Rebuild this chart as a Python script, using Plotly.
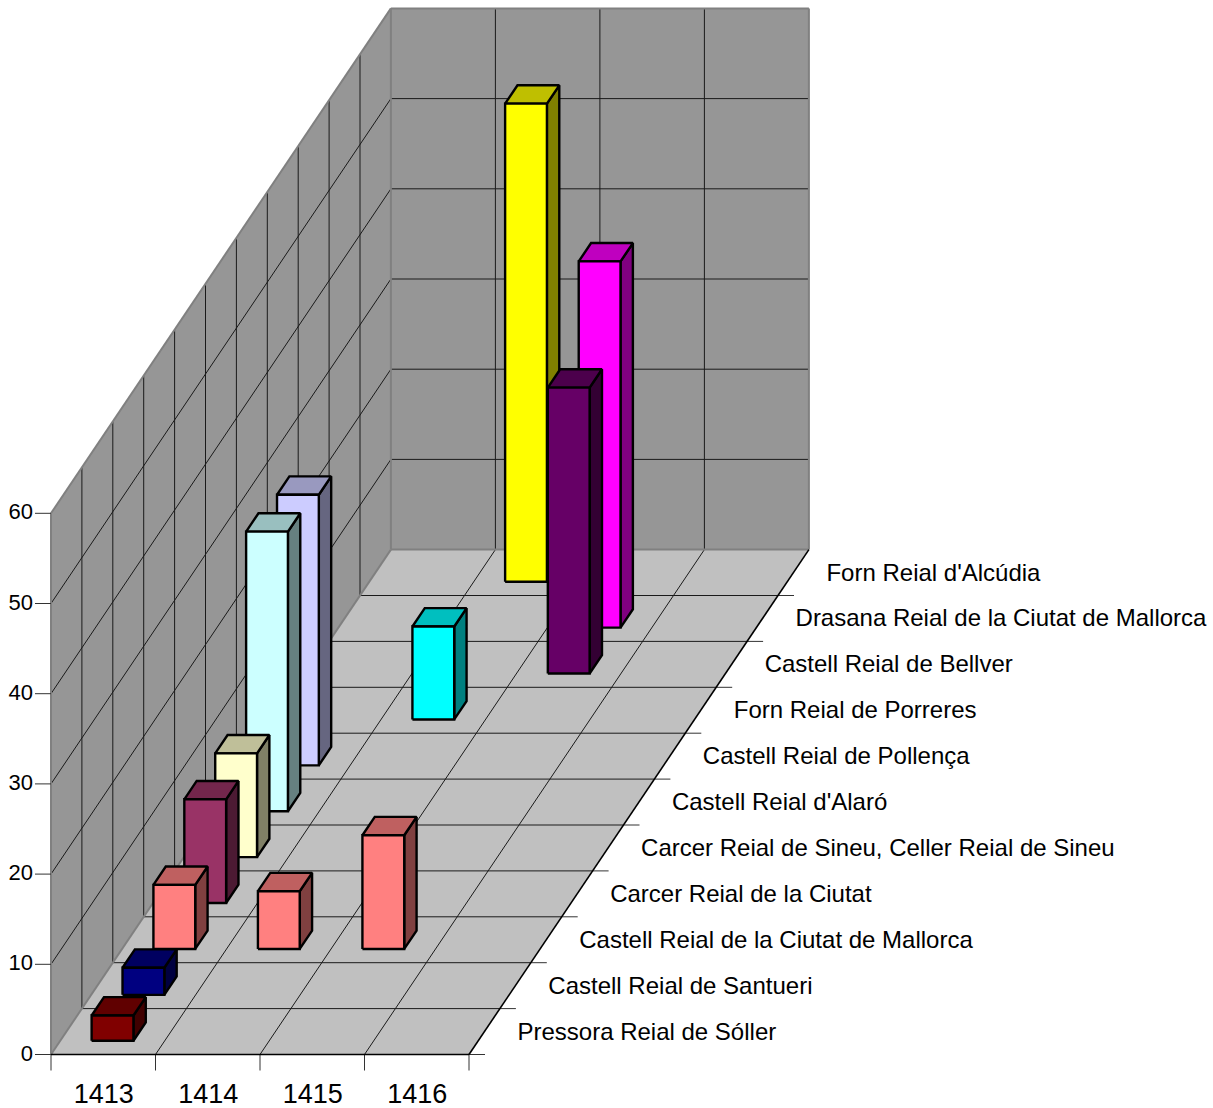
import plotly.graph_objects as go

YEARS = ["1413", "1414", "1415", "1416"]
CATEGORIES = ["Pressora Reial de Sóller", "Castell Reial de Santueri", "Castell Reial de la Ciutat de Mallorca",
              "Carcer Reial de la Ciutat", "Carcer Reial de Sineu, Celler Reial de Sineu", "Castell Reial d'Alaró",
              "Castell Reial de Pollença", "Forn Reial de Porreres", "Castell Reial de Bellver",
              "Drasana Reial de la Ciutat de Mallorca", "Forn Reial d'Alcúdia"]
VALUES = [
    [2.8, None, None, None],
    [3.0, None, None, None],
    [7.1, 6.4, 12.6, None],
    [11.5, None, None, None],
    [11.5, None, None, None],
    [31.0, None, None, None],
    [30.0, None, None, None],
    [None, 10.3, None, None],
    [None, None, 31.7, None],
    [None, None, 40.6, None],
    [None, 53.0, None, None],
]
COLORS = [(128, 0, 0), (0, 0, 128), (255, 128, 128), (153, 51, 102), (255, 255, 204), (204, 255, 255),
          (204, 204, 255), (0, 255, 255), (102, 0, 102), (255, 0, 255), (255, 255, 0)]
VALUE_TICKS = [0, 10, 20, 30, 40, 50, 60]

# oblique projection of (year position, category position, value) to the picture
X0, Y0, DX, RX, RY, VY = 51, 1054.5, 104.5, 30.9, 45.9, 9.02
def P(c, r, v=0):
    return X0 + DX * c + RX * r, Y0 - RY * r - VY * v

NC, NR, VMAX = len(YEARS), len(CATEGORIES), VALUE_TICKS[-1]
fig = go.Figure()

def poly(pts, fill, line="rgba(0,0,0,0)", width=0, name=""):
    fig.add_trace(go.Scatter(x=[p[0] for p in pts] + [pts[0][0]], y=[p[1] for p in pts] + [pts[0][1]],
                             mode="lines", fill="toself", fillcolor=fill, name=name,
                             line=dict(color=line, width=width), showlegend=False, hoverinfo="skip"))

def lines(segs, color, width, name=""):
    xs, ys = [], []
    for a, b in segs:
        xs += [a[0], b[0], None]
        ys += [a[1], b[1], None]
    fig.add_trace(go.Scatter(x=xs, y=ys, mode="lines", line=dict(color=color, width=width), name=name,
                             showlegend=False, hoverinfo="skip"))

WALL, FLOOR, EDGE, GRID = "#969696", "#c0c0c0", "#808080", "#1a1a1a"
poly([P(0, NR), P(NC, NR), P(NC, NR, VMAX), P(0, NR, VMAX)], WALL, name="back wall")
poly([P(0, 0), P(0, NR), P(0, NR, VMAX), P(0, 0, VMAX)], WALL, name="side wall")
poly([P(0, 0), P(NC, 0), P(NC, NR), P(0, NR)], FLOOR, name="floor")

grid = []
for t in VALUE_TICKS[1:-1]:
    grid += [(P(0, NR, t), P(NC, NR, t)), (P(0, 0, t), P(0, NR, t))]
for c in range(1, NC):
    grid += [(P(c, NR), P(c, NR, VMAX)), (P(c, 0), P(c, NR))]
for r in range(1, NR):
    grid += [(P(0, r), P(0, r, VMAX)), (P(0, r), P(NC, r))]
lines(grid, GRID, 1, "grid")

lines([(P(0, 0), P(0, NR)), (P(0, NR), P(NC, NR)), (P(0, NR), P(0, NR, VMAX)), (P(0, 0), P(0, 0, VMAX)),
       (P(0, NR, VMAX), P(NC, NR, VMAX)), (P(NC, NR), P(NC, NR, VMAX)), (P(0, 0, VMAX), P(0, NR, VMAX))],
      EDGE, 2, "wall edges")

# axis rules and ticks
ticks = []
for t in VALUE_TICKS:
    x, y = P(0, 0, t)
    ticks.append(((x - 16, y), (x, y)))
for c in range(NC + 1):
    x, y = P(c, 0)
    ticks.append(((x, y), (x, y + 16)))
for r in range(NR):
    x, y = P(NC, r)
    ticks.append(((x, y), (x + 16, y)))
lines(ticks, "#333333", 1, "ticks")
lines([(P(0, 0), P(NC, 0)), (P(NC, 0), P(NC, NR))], "#000000", 1.6, "floor edges")

def shade(rgb, k):
    return "rgb(%d,%d,%d)" % tuple(round(v * k) for v in rgb)

# bars, back to front
G = 0.3
for r in range(NR - 1, -1, -1):
    for c in range(NC):
        v = VALUES[r][c]
        if v is None:
            continue
        c0, c1, r0, r1 = c + G, c + 1 - G, r + G, r + 1 - G
        n = CATEGORIES[r]
        poly([P(c1, r0), P(c1, r1), P(c1, r1, v), P(c1, r0, v)], shade(COLORS[r], 0.5), "#000", 2.4, n)
        poly([P(c0, r0, v), P(c1, r0, v), P(c1, r1, v), P(c0, r1, v)], shade(COLORS[r], 0.75), "#000", 2.4, n)
        poly([P(c0, r0), P(c1, r0), P(c1, r0, v), P(c0, r0, v)], shade(COLORS[r], 1), "#000", 2.4, n)

FONT = "Liberation Sans, Arial, sans-serif"
def text(xs, ys, labels, pos, size):
    fig.add_trace(go.Scatter(x=xs, y=ys, text=labels, mode="text", textposition=pos, cliponaxis=False,
                             textfont=dict(family=FONT, size=size, color="#000"),
                             showlegend=False, hoverinfo="skip"))

text([P(0, 0, t)[0] - 18 for t in VALUE_TICKS], [P(0, 0, t)[1] + 0.5 for t in VALUE_TICKS],
     [str(t) for t in VALUE_TICKS], "middle left", 22)
text([P(c + 0.5, 0)[0] + 0.5 for c in range(NC)], [P(0, 0)[1] + 41.5] * NC, YEARS, "middle center", 27)
text([P(NC, r + 0.5)[0] + 33 for r in range(NR)], [P(NC, r + 0.5)[1] + 2 for r in range(NR)],
     CATEGORIES, "middle right", 24)

fig.update_layout(width=1213, height=1108, margin=dict(l=0, r=0, t=0, b=0), paper_bgcolor="#fff",
                  plot_bgcolor="#fff", showlegend=False,
                  xaxis=dict(range=[0, 1213], visible=False, fixedrange=True),
                  yaxis=dict(range=[1108, 0], visible=False, fixedrange=True))
fig.write_html("out.html", config=dict(displayModeBar=False),
               post_script="document.body.style.margin='0';")
